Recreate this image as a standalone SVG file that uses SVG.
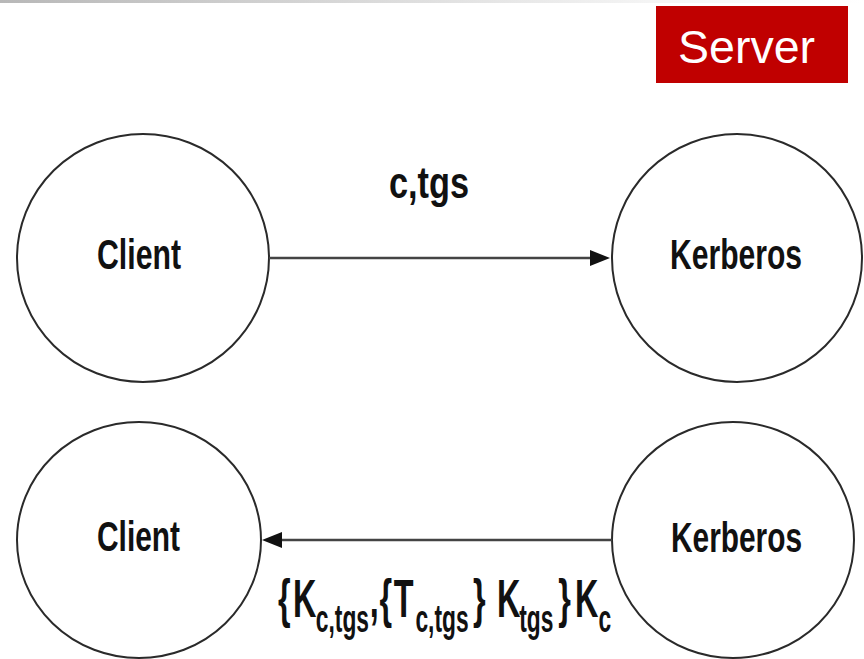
<svg xmlns="http://www.w3.org/2000/svg" width="864" height="659" viewBox="0 0 864 659">
  <defs>
    <linearGradient id="topBar" x1="0" y1="0" x2="1" y2="0">
      <stop offset="0" stop-color="#b8b8b8"/>
      <stop offset="0.75" stop-color="#f4f4f4"/>
      <stop offset="1" stop-color="#ffffff"/>
    </linearGradient>
    <marker id="arrow" markerUnits="userSpaceOnUse" markerWidth="20" markerHeight="16" refX="5" refY="8" orient="auto">
      <path d="M0,0 L20,8 L0,16 z" fill="#111"/>
    </marker>
    <style>
      .node { fill: #ffffff; stroke: #2a2a2a; stroke-width: 2; }
      .label { font-family: "Liberation Sans", Arial, sans-serif; font-weight: bold; font-size: 43px; fill: #111; }
      .msg { font-family: "Liberation Sans", Arial, sans-serif; font-weight: bold; fill: #111; }
      .sub { font-size: 38px; }
      .conn { stroke: #444; stroke-width: 2.5; fill: none; }
    </style>
  </defs>

  <rect width="864" height="659" fill="#ffffff"/>
  <rect x="0" y="0" width="864" height="3" fill="url(#topBar)"/>

  <!-- Server tag -->
  <g id="server">
    <rect x="656" y="6" width="192" height="77" fill="#c00000"/>
    <text x="678" y="63" font-family="Liberation Sans, Arial, sans-serif" font-size="47" fill="#ffffff" textLength="137" lengthAdjust="spacingAndGlyphs">Server</text>
  </g>

  <g id="client-top">
    <ellipse class="node" cx="143" cy="258" rx="126" ry="124"/>
    <text class="label" x="97" y="269" textLength="84" lengthAdjust="spacingAndGlyphs">Client</text>
  </g>

  <g id="kerberos-top">
    <ellipse class="node" cx="737" cy="258" rx="125" ry="124"/>
    <text class="label" x="670" y="269" textLength="132" lengthAdjust="spacingAndGlyphs">Kerberos</text>
  </g>

  <g id="client-bottom">
    <ellipse class="node" cx="139" cy="540" rx="122" ry="118"/>
    <text class="label" x="97" y="551" textLength="83" lengthAdjust="spacingAndGlyphs">Client</text>
  </g>

  <g id="kerberos-bottom">
    <ellipse class="node" cx="733" cy="540" rx="121" ry="118"/>
    <text class="label" x="671" y="552" textLength="131" lengthAdjust="spacingAndGlyphs">Kerberos</text>
  </g>

  <!-- Connectors and their message labels -->
  <g id="connectors">
    <line class="conn" x1="269" y1="258" x2="595" y2="258" marker-end="url(#arrow)"/>
    <line class="conn" x1="612" y1="540" x2="277" y2="540" marker-end="url(#arrow)"/>
    <text class="msg" x="389" y="198" font-size="44" textLength="80" lengthAdjust="spacingAndGlyphs">c,tgs</text>
    <!-- condensed by a horizontal scale; x values are in the scaled space -->
    <text class="msg" transform="translate(278,617) scale(0.6,1)" font-size="54"><tspan x="0" y="0">{</tspan><tspan x="25" y="0">K</tspan><tspan class="sub" x="63" y="15">c,tgs</tspan><tspan x="153" y="0">,</tspan><tspan x="169" y="0">{</tspan><tspan x="193" y="0">T</tspan><tspan class="sub" x="229" y="15">c,tgs</tspan><tspan x="325" y="0">}</tspan><tspan x="365" y="0">K</tspan><tspan class="sub" x="402" y="15">tgs</tspan><tspan x="467" y="0">}</tspan><tspan x="495" y="0">K</tspan><tspan class="sub" x="534" y="15">c</tspan></text>
  </g>
</svg>
